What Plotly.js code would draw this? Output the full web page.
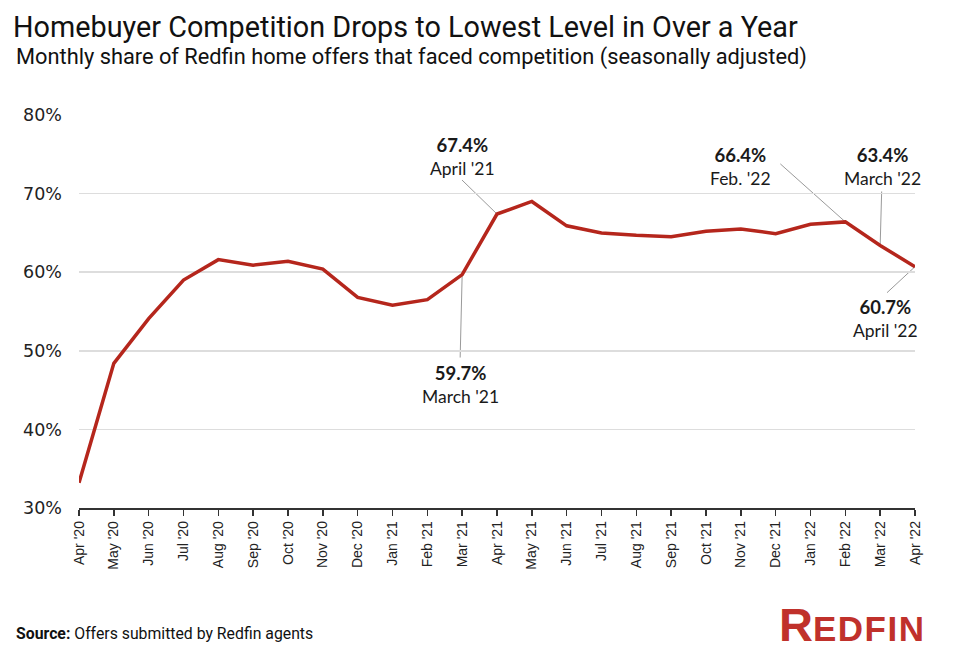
<!DOCTYPE html>
<html>
<head>
<meta charset="utf-8">
<script src="https://cdn.plot.ly/plotly-3.0.1.min.js"></script>
<style>html,body{margin:0;padding:0;background:#fff;}#chart{width:960px;height:662px;}</style>
</head>
<body>
<div id="chart"></div>
<script>
// ---- data ----
const months = ["Apr '20","May '20","Jun '20","Jul '20","Aug '20","Sep '20","Oct '20","Nov '20","Dec '20",
  "Jan '21","Feb '21","Mar '21","Apr '21","May '21","Jun '21","Jul '21","Aug '21","Sep '21","Oct '21",
  "Nov '21","Dec '21","Jan '22","Feb '22","Mar '22","Apr '22"];
const sharePct = [33.2,48.4,54.1,59.0,61.6,60.9,61.4,60.4,56.8,
  55.8,56.5,59.7,67.4,69.0,65.9,65.0,64.7,64.5,65.2,
  65.5,64.9,66.1,66.4,63.4,60.7];
const calloutMonths = ["Mar '21","Apr '21","Feb '22","Mar '22","Apr '22"];
const calloutLabels = ["March '21","April '21","Feb. '22","March '22","April '22"];
const yTicks = [30,40,50,60,70,80];

// ---- callout placement (pixel offsets from the data point) ----
// [lineEndDx, lineEndDy(up), textDx, textDy(up)]
const calloutOffsets = [
  [-2,-83,-2,-110],
  [-35,34,-35,58],
  [-65,58,-105,55],
  [1.5,54,2,79],
  [-28,-26,-30,-52]
];

const shapes = [];
const annotations = [];
calloutMonths.forEach((m,i)=>{
  const idx = months.indexOf(m);
  const v = sharePct[idx];
  const o = calloutOffsets[i];
  shapes.push({type:'line', xref:'x', yref:'y', xsizemode:'pixel', ysizemode:'pixel',
    xanchor:idx, yanchor:v, x0:0, y0:0, x1:o[0], y1:o[1],
    line:{color:'#9a9a9a', width:1}, layer:'below'});
  annotations.push({xref:'x', yref:'y', x:idx, y:v, xshift:o[2], yshift:o[3],
    showarrow:false, xanchor:'center', yanchor:'middle', align:'center',
    text:'<b><span style="font-size:18.5px">'+v.toFixed(1)+'%</span></b><br>'+calloutLabels[i],
    font:{family:'Lato, "Open Sans", sans-serif', size:17.5, color:'#1a1a1a'}});
});

// subtitle, source, logo
annotations.push({xref:'paper', yref:'paper', x:-0.0778, y:1+(115-57)/393, xanchor:'left', yanchor:'middle',
  showarrow:false, text:'Monthly share of Redfin home offers that faced competition (seasonally adjusted)',
  font:{family:'Roboto, Inter, sans-serif', size:21.8, color:'#111'}});
annotations.push({xref:'paper', yref:'paper', x:-0.0778, y:(508-633)/393, xanchor:'left', yanchor:'middle',
  showarrow:false, text:'<b>Source:</b> Offers submitted by Redfin agents',
  font:{family:'Roboto, Inter, sans-serif', size:15.8, color:'#111'}});
annotations.push({xref:'paper', yref:'paper', x:(927-79)/836, y:(508-624)/393, xanchor:'right', yanchor:'middle',
  showarrow:false, text:'<b><span style="font-size:47px">R</span><span style="letter-spacing:1.5px">EDFIN</span></b>',
  font:{family:'"Liberation Sans", Arial, sans-serif', size:35, color:'#c0312b'}});

const trace = {
  type:'scatter', mode:'lines', x:months.map((m,i)=>i), y:sharePct,
  line:{color:'#b5261c', width:3.5}, hoverinfo:'skip'
};

const layout = {
  width:960, height:662,
  margin:{l:79, r:45, t:115, b:154},
  paper_bgcolor:'#fff', plot_bgcolor:'#fff',
  showlegend:false,
  title:{text:'Homebuyer Competition Drops to Lowest Level in Over a Year',
    xref:'container', yref:'container', x:13/960, xanchor:'left', y:1-27/662, yanchor:'middle',
    font:{family:'Roboto, Inter, sans-serif', size:28.8, color:'#111'}},
  xaxis:{
    range:[0, months.length-1],
    tickmode:'array', tickvals:months.map((m,i)=>i), ticktext:months,
    tickangle:-90, ticks:'outside', ticklen:6, tickwidth:1.5, tickcolor:'#333',
    showline:true, linecolor:'#333', linewidth:1.5,
    showgrid:false, zeroline:false, fixedrange:true,
    tickfont:{family:'"Liberation Sans", Arial, sans-serif', size:14, color:'#222'}
  },
  yaxis:{
    range:[30,80], tickmode:'array', tickvals:yTicks, ticktext:yTicks.map(t=>t+'%'),
    showgrid:true, gridcolor:'#dddddd', gridwidth:1.5, zeroline:false,
    showline:false, ticks:'', ticklabelstandoff:16, fixedrange:true,
    tickfont:{family:'"DejaVu Sans", sans-serif', size:17.5, color:'#222'}
  },
  shapes:shapes,
  annotations:annotations,
  hovermode:false
};

Plotly.newPlot('chart',[trace],layout,{displayModeBar:false, staticPlot:true});
</script>
</body>
</html>
